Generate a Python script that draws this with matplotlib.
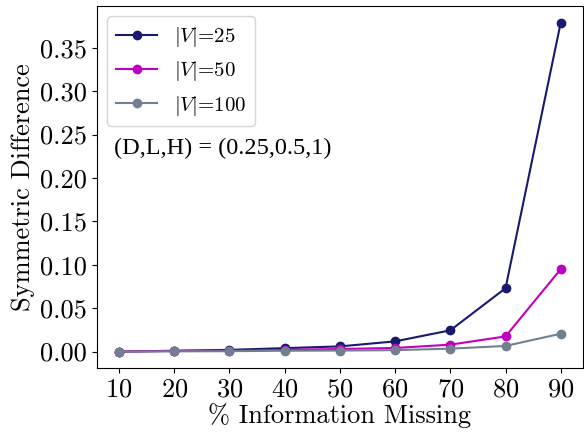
import matplotlib
matplotlib.use("Agg")
import matplotlib.pyplot as plt
from matplotlib.ticker import MultipleLocator, FormatStrFormatter

plt.rcParams['font.family'] = 'serif'
plt.rcParams['font.serif'] = ['cmr10']
plt.rcParams['mathtext.fontset'] = 'cm'
plt.rcParams['axes.formatter.use_mathtext'] = True

# % d'information manquante
missing = [10, 20, 30, 40, 50, 60, 70, 80, 90]
v25 = [0.0, 0.001, 0.002, 0.004, 0.006, 0.0118, 0.0245, 0.073, 0.379]
v50 = [0.0, 0.0008, 0.001, 0.002, 0.003, 0.0042, 0.008, 0.0175, 0.095]
v100 = [0.0, 0.0003, 0.0005, 0.001, 0.0012, 0.0017, 0.0034, 0.0065, 0.0206]

fig = plt.figure(figsize=(5.84, 4.32), dpi=100)
ax = fig.add_axes([0.166, 0.148, 0.832, 0.838])

ax.plot(missing, v25, 'o-', color='midnightblue', label=r'$|V|$=25')
ax.plot(missing, v50, 'o-', color='m', label=r'$|V|$=50')
ax.plot(missing, v100, 'o-', color='slategray', label=r'$|V|$=100')

ax.set_xticks(missing)
ax.yaxis.set_major_locator(MultipleLocator(0.05))
ax.yaxis.set_major_formatter(FormatStrFormatter('%.2f'))
ax.tick_params(labelsize=19)
ax.set_xlabel('% Information Missing', fontsize=19, labelpad=1)
ax.set_ylabel('Symmetric Difference', fontsize=19)
ax.legend(loc='upper left', fontsize=15)
ax.text(0.035, 0.59, '(D,L,H) = (0.25,0.5,1)', transform=ax.transAxes,
        fontsize=17.5, family='Liberation Serif')

fig.savefig('out.png', dpi=100)
